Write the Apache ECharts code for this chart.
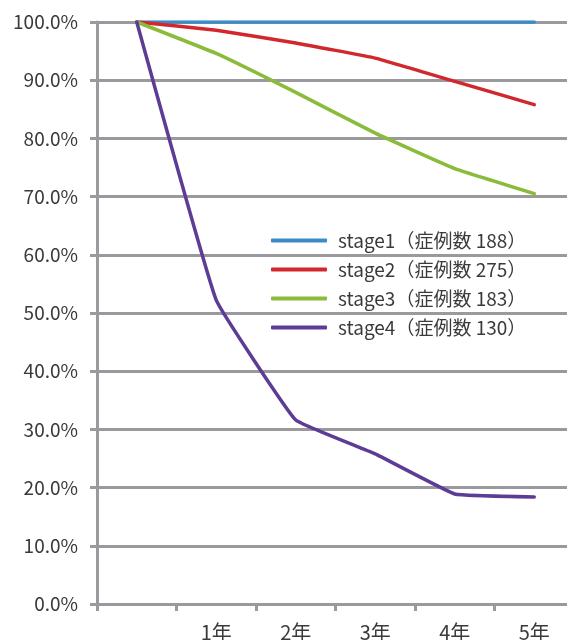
<!DOCTYPE html>
<html>
<head>
<meta charset="utf-8">
<script src="https://cdn.jsdelivr.net/npm/echarts@6/dist/echarts.min.js"></script>
<style>
  html, body { margin: 0; padding: 0; background: #fff; }
  #chart { width: 567px; height: 640px; }
</style>
</head>
<body>
<div id="chart"></div>
<script>
// Survival rate by stage (%), year 0 through year 5
const categories = ['', '1年', '2年', '3年', '4年', '5年'];
const seriesNames = ['stage1（症例数 188）', 'stage2（症例数 275）', 'stage3（症例数 183）', 'stage4（症例数 130）'];
const stage1 = [100, 100, 100, 100, 100, 100];
const stage2 = [100, 98.6, 96.4, 93.8, 89.8, 85.8];
const stage3 = [100, 94.6, 87.9, 80.9, 74.8, 70.5];
const stage4 = [100, 52.2, 31.6, 25.8, 18.9, 18.4];
const colors = ['#3b8bc6', '#d1282d', '#8bbb3b', '#5d3c95'];

const font = '"Noto Sans CJK JP", "Noto Sans", sans-serif';
const gray = '#9a9a9e';
const textColor = '#3a3a3a';

const chart = echarts.init(document.getElementById('chart'), null, { renderer: 'canvas' });

const data = [stage1, stage2, stage3, stage4];
chart.setOption({
  animation: false,
  backgroundColor: '#fff',
  color: colors,
  grid: { left: 97, top: 22, bottom: 36, width: 477, containLabel: false, outerBoundsMode: 'none' },
  legend: {
    orient: 'vertical',
    left: 266,
    top: 226,
    icon: 'roundRect',
    itemWidth: 56,
    itemHeight: 4,
    itemGap: 10,
    textStyle: { fontFamily: font, fontSize: 19, color: textColor, padding: [0, 0, 0, 6] },
    data: seriesNames
  },
  xAxis: {
    type: 'category',
    data: categories,
    boundaryGap: true,
    axisLine: { show: true, lineStyle: { color: gray, width: 3 } },
    axisTick: { show: true, length: 7, lineStyle: { color: gray, width: 3 } },
    axisLabel: { fontFamily: font, fontSize: 20, color: textColor, margin: 18, interval: 0 },
    splitLine: { show: false }
  },
  yAxis: {
    type: 'value',
    min: 0,
    max: 100,
    interval: 10,
    axisLine: { show: true, lineStyle: { color: gray, width: 3 } },
    axisTick: { show: true, length: 7, lineStyle: { color: gray, width: 3 } },
    axisLabel: {
      fontFamily: font, fontSize: 19, color: textColor, margin: 19,
      formatter: v => v.toFixed(1) + '%'
    },
    splitLine: { show: true, lineStyle: { color: gray, width: 3 } }
  },
  series: data.map((d, i) => ({
    name: seriesNames[i],
    type: 'line',
    data: d,
    symbol: 'none',
    showSymbol: false,
    smooth: 0.08,
    lineStyle: { width: 3.5, color: colors[i], cap: 'round' },
    itemStyle: { color: colors[i] }
  }))
});
</script>
</body>
</html>
